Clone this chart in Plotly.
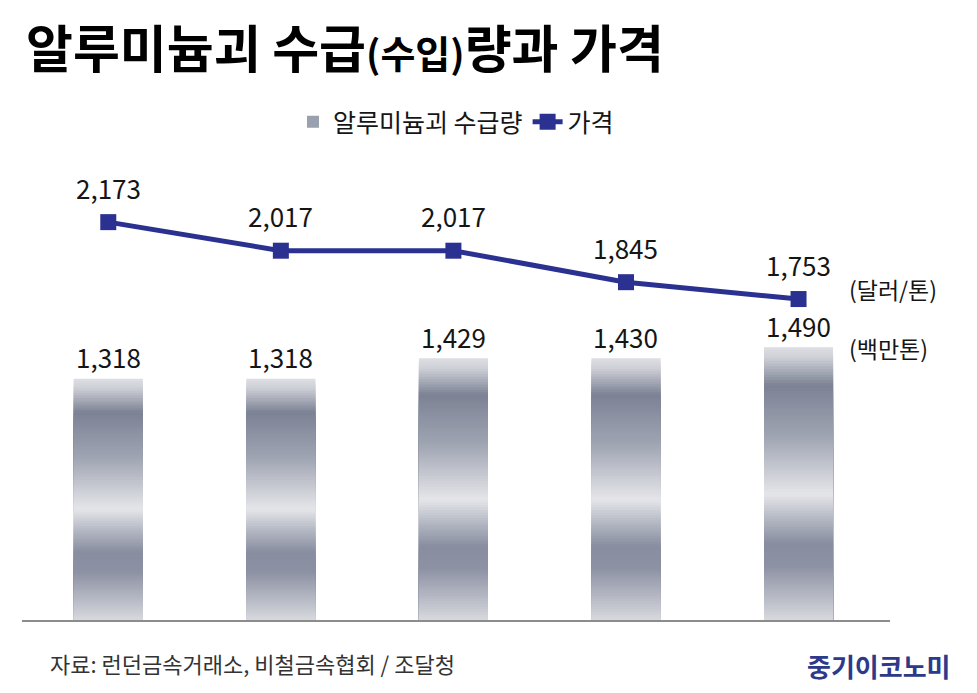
import plotly.graph_objects as go

# ---- data ----
categories = ["Y1", "Y2", "Y3", "Y4", "Y5"]
supply = [1318, 1318, 1429, 1430, 1490]      # 알루미늄괴 수급량 (백만톤)
price = [2173, 2017, 2017, 1845, 1753]       # 가격 (달러/톤)
supply_labels = ["1,318", "1,318", "1,429", "1,430", "1,490"]
price_labels = ["2,173", "2,017", "2,017", "1,845", "1,753"]

FONT = "Noto Sans CJK KR"
LINE_COLOR = "#2b3190"

# metallic gradient profile (top fraction -> colour)
stops = [
    (0.00, (222, 223, 228)),
    (0.04, (205, 207, 214)),
    (0.14, (124, 130, 148)),
    (0.33, (160, 165, 179)),
    (0.45, (200, 202, 210)),
    (0.54, (229, 230, 233)),
    (0.62, (184, 188, 199)),
    (0.72, (136, 141, 159)),
    (0.80, (140, 145, 163)),
    (0.91, (181, 184, 195)),
    (1.00, (215, 217, 222)),
]


def grad(t):
    for (t0, c0), (t1, c1) in zip(stops[:-1], stops[1:]):
        if t0 <= t <= t1:
            f = (t - t0) / (t1 - t0) if t1 > t0 else 0
            c = [round(a + (b - a) * f) for a, b in zip(c0, c1)]
            return "rgb(%d,%d,%d)" % tuple(c)
    return "rgb(%d,%d,%d)" % stops[-1][1]


fig = go.Figure()

N = 100
for k in range(N):
    frac = (N - k) / N
    col = grad((k + 0.5) / N)
    fig.add_trace(go.Bar(
        x=categories,
        y=[v * frac for v in supply],
        width=0.4,
        marker=dict(color=col, line=dict(width=0)),
        showlegend=(k == 30),
        name="알루미늄괴 수급량",
        legendrank=1,
        hoverinfo="skip",
    ))

fig.add_trace(go.Scatter(
    x=categories,
    y=price,
    mode="lines+markers",
    name="가격",
    line=dict(color=LINE_COLOR, width=5),
    marker=dict(symbol="square", size=16, color=LINE_COLOR),
    legendrank=2,
    hoverinfo="skip",
))

annotations = []
for c, v, t in zip(categories, supply, supply_labels):
    annotations.append(dict(x=c, y=v, xref="x", yref="y", text=t, showarrow=False,
                            yshift=22, font=dict(family=FONT, size=26, color="#151515")))
for c, v, t in zip(categories, price, price_labels):
    annotations.append(dict(x=c, y=v, xref="x", yref="y", text=t, showarrow=False,
                            yshift=35, font=dict(family=FONT, size=26, color="#151515")))

W, H = 977, 693
OFF = 8  # page body offset
L, R, T, B = 22 - OFF, 87 + OFF, 150 - OFF, 73 + OFF
pw, ph = W - L - R, H - T - B


def px(xp):
    return (xp - OFF - L) / pw


def py(yp):
    return (H - B - (yp - OFF)) / ph


annotations += [
    dict(xref="paper", yref="paper", x=px(847), y=py(289), xanchor="left", yanchor="middle",
         text="(달러/톤)", showarrow=False, font=dict(family=FONT, size=23, color="#151515")),
    dict(xref="paper", yref="paper", x=px(847), y=py(348), xanchor="left", yanchor="middle",
         text="(백만톤)", showarrow=False, font=dict(family=FONT, size=23, color="#151515")),
    dict(xref="paper", yref="paper", x=px(24), y=py(46), xanchor="left", yanchor="middle",
         text="<b>알루미늄괴 수급<span style='font-size:38px'>(수입)</span>량과 가격</b>",
         showarrow=False, font=dict(family=FONT, size=51, color="#000000")),
    dict(xref="paper", yref="paper", x=px(48), y=py(663), xanchor="left", yanchor="middle",
         text="자료: 런던금속거래소, 비철금속협회 / 조달청", showarrow=False,
         font=dict(family=FONT, size=22, color="#333333")),
    dict(xref="paper", yref="paper", x=px(953), y=py(665), xanchor="right", yanchor="middle",
         text="<b>중기이코노미</b>", showarrow=False,
         font=dict(family=FONT, size=26, color="#2d3a8c")),
]

fig.update_layout(
    width=W, height=H,
    margin=dict(l=L, r=R, t=T, b=B),
    paper_bgcolor="white", plot_bgcolor="white",
    barmode="overlay",
    font=dict(family=FONT, color="#151515"),
    showlegend=True,
    legend=dict(orientation="h", x=0.5, xanchor="center", y=py(122), yanchor="middle",
                font=dict(family=FONT, size=25, color="#151515"),
                bgcolor="rgba(0,0,0,0)", itemwidth=30, traceorder="normal"),
    xaxis=dict(type="category", range=[-0.5, 4.53], showticklabels=False, ticks="",
               showgrid=False, zeroline=False, showline=True, linecolor="#8c8c8c",
               linewidth=2),
    yaxis=dict(range=[0, 2567], visible=False, showgrid=False, zeroline=False),
    annotations=annotations,
)

fig.write_html("out.html")
